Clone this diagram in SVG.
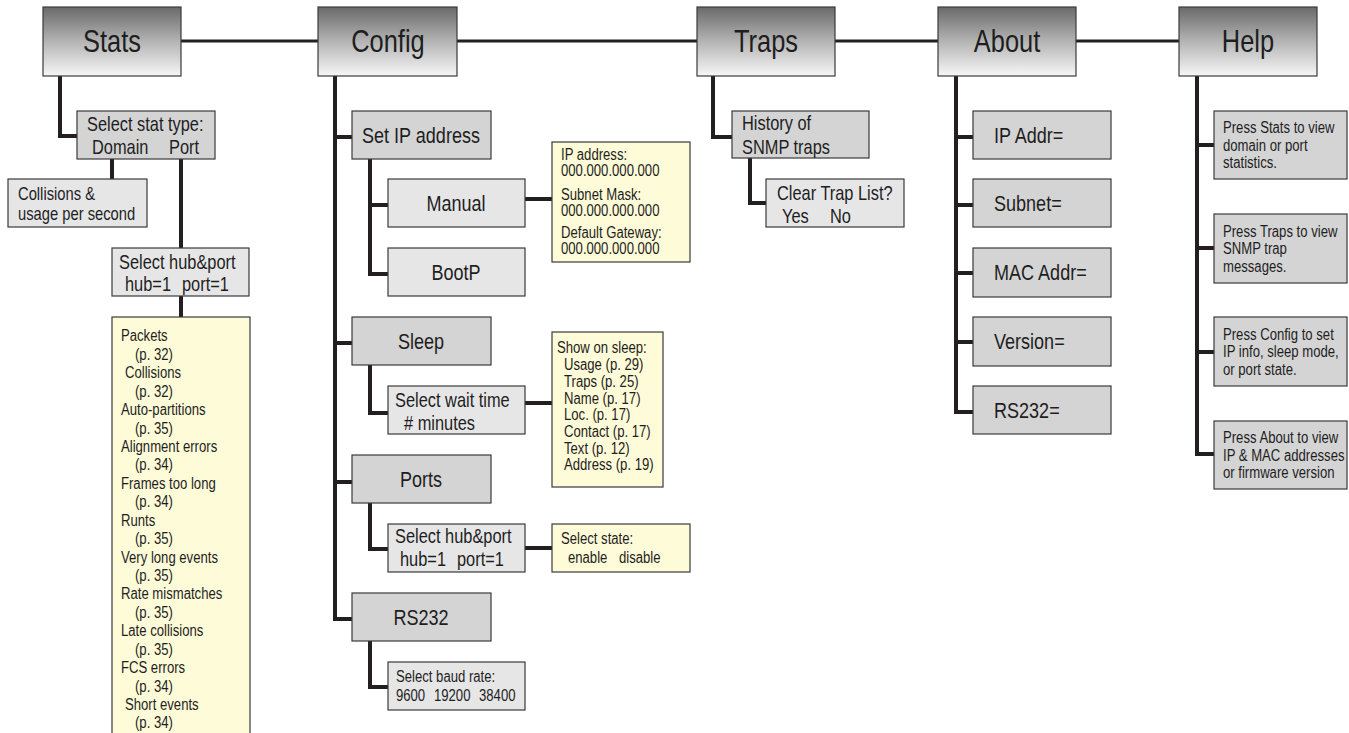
<svg xmlns="http://www.w3.org/2000/svg" width="1349" height="733" viewBox="0 0 1349 733">
<defs>
<linearGradient id="topg" x1="0" y1="0" x2="0" y2="1">
<stop offset="0" stop-color="#6a6a6a"/>
<stop offset="0.5" stop-color="#b4b4b4"/>
<stop offset="1" stop-color="#f7f7f7"/>
</linearGradient>
</defs>
<style>
text{font-family:'Liberation Sans',Arial,sans-serif;fill:#1e1e1e;transform-box:fill-box;transform-origin:0% 50%;transform:scaleX(0.82)}
.top{fill:url(#topg);stroke:#3a3a3a;stroke-width:1.2}
.g2{fill:#d4d4d4;stroke:#3a3a3a;stroke-width:1.2}
.g3{fill:#e6e6e7;stroke:#3a3a3a;stroke-width:1.2}
.y{fill:#fefbd8;stroke:#3a3a3a;stroke-width:1.2}
.tl{font-size:31px;text-anchor:middle;transform-origin:50% 50%}
.l22{font-size:22px}
.c22{font-size:22px;text-anchor:middle;transform-origin:50% 50%}
.l20{font-size:20px}
.l18{font-size:18px}
.l15{font-size:16px}
.h{font-size:16px}
.conn{fill:none;stroke:#231f20;stroke-width:4;stroke-linejoin:miter}
.bar{fill:none;stroke:#231f20;stroke-width:3}
</style>
<rect width="1349" height="733" fill="#ffffff"/>
<g id="connectors">
<path class="bar" d="M181 41H1179"/>
<path class="conn" d="M60 76V136H77"/>
<path class="conn" d="M112 159V179"/>
<path class="conn" d="M181 159V248"/>
<path class="conn" d="M181 296V317"/>
<path class="conn" d="M335 76V621"/>
<path class="conn" d="M335 137H352M335 343H352M335 482H352M335 619H352"/>
<path class="conn" d="M370 159V274H388M370 205H388"/>
<path class="conn" d="M525 199H552"/>
<path class="conn" d="M370 365V413H388"/>
<path class="conn" d="M525 403H552"/>
<path class="conn" d="M370 503V549H388"/>
<path class="conn" d="M525 548H552"/>
<path class="conn" d="M370 641V687H388"/>
<path class="conn" d="M713 76V137H732"/>
<path class="conn" d="M750 158V203H766"/>
<path class="conn" d="M956 76V412H973M956 137H973M956 205H973M956 273H973M956 342H973"/>
<path class="conn" d="M1197 76V454H1214M1197 145H1214M1197 248H1214M1197 352H1214"/>
</g>
<g id="stats"><rect class="top" x="43" y="7" width="138" height="69"/><text class="tl" x="112" y="52">Stats</text></g>
<g id="config"><rect class="top" x="318" y="7" width="139" height="69"/><text class="tl" x="388" y="52">Config</text></g>
<g id="traps"><rect class="top" x="697" y="7" width="138" height="69"/><text class="tl" x="766" y="52">Traps</text></g>
<g id="about"><rect class="top" x="938" y="7" width="138" height="69"/><text class="tl" x="1007" y="52">About</text></g>
<g id="help"><rect class="top" x="1179" y="7" width="138" height="69"/><text class="tl" x="1248" y="52">Help</text></g>

<g id="select-stat-type"><rect class="g2" x="77" y="111" width="138" height="48"/><text class="l20" x="87" y="131">Select stat type:</text><text class="l20" x="92" y="154">Domain</text><text class="l20" x="169" y="154">Port</text></g>
<g id="collisions-usage"><rect class="g3" x="8" y="179" width="139" height="48"/><text class="l18" x="18" y="200">Collisions &amp;</text><text class="l18" x="18" y="220">usage per second</text></g>
<g id="stats-hubport"><rect class="g3" x="112" y="248" width="137" height="48"/><text class="l20" x="119" y="269">Select hub&amp;port</text><text class="l20" x="125" y="291">hub=1</text><text class="l20" x="182" y="291">port=1</text></g>
<g id="stats-list"><rect class="y" x="112" y="317" width="138" height="440"/>
<text class="l15" x="121" y="341.5">Packets</text>
<text class="l15" x="135" y="359.9">(p. 32)</text>
<text class="l15" x="125" y="378.4">Collisions</text>
<text class="l15" x="135" y="396.8">(p. 32)</text>
<text class="l15" x="121" y="415.2">Auto-partitions</text>
<text class="l15" x="135" y="433.7">(p. 35)</text>
<text class="l15" x="121" y="452.1">Alignment errors</text>
<text class="l15" x="135" y="470.5">(p. 34)</text>
<text class="l15" x="121" y="488.9">Frames too long</text>
<text class="l15" x="135" y="507.4">(p. 34)</text>
<text class="l15" x="121" y="525.8">Runts</text>
<text class="l15" x="135" y="544.2">(p. 35)</text>
<text class="l15" x="121" y="562.7">Very long events</text>
<text class="l15" x="135" y="581.1">(p. 35)</text>
<text class="l15" x="121" y="599.5">Rate mismatches</text>
<text class="l15" x="135" y="618">(p. 35)</text>
<text class="l15" x="121" y="636.4">Late collisions</text>
<text class="l15" x="135" y="654.8">(p. 35)</text>
<text class="l15" x="121" y="673.2">FCS errors</text>
<text class="l15" x="135" y="691.7">(p. 34)</text>
<text class="l15" x="125" y="710.1">Short events</text>
<text class="l15" x="135" y="728.5">(p. 34)</text>
</g>

<g id="set-ip"><rect class="g2" x="352" y="111" width="139" height="48"/><text class="c22" x="421" y="143">Set IP address</text></g>
<g id="manual"><rect class="g3" x="388" y="179" width="137" height="48"/><text class="c22" x="456" y="211">Manual</text></g>
<g id="bootp"><rect class="g3" x="388" y="248" width="137" height="48"/><text class="c22" x="456" y="280">BootP</text></g>
<g id="ip-info"><rect class="y" x="552" y="142" width="138" height="120"/><text class="l15" x="561" y="160.5">IP address:</text><text class="l15" x="561" y="176.5">000.000.000.000</text><text class="l15" x="561" y="200.5">Subnet Mask:</text><text class="l15" x="561" y="216.5">000.000.000.000</text><text class="l15" x="561" y="238.5">Default Gateway:</text><text class="l15" x="561" y="254.5">000.000.000.000</text></g>
<g id="sleep"><rect class="g2" x="352" y="317" width="139" height="48"/><text class="c22" x="421" y="349">Sleep</text></g>
<g id="wait-time"><rect class="g3" x="388" y="386" width="137" height="48"/><text class="l20" x="395" y="407">Select wait time</text><text class="l20" x="404" y="430"># minutes</text></g>
<g id="show-sleep"><rect class="y" x="552" y="332" width="111" height="155"/>
<text class="l15" x="557" y="353.5">Show on sleep:</text>
<text class="l15" x="564" y="370.2">Usage (p. 29)</text>
<text class="l15" x="564" y="386.9">Traps (p. 25)</text>
<text class="l15" x="564" y="403.6">Name (p. 17)</text>
<text class="l15" x="564" y="420.3">Loc. (p. 17)</text>
<text class="l15" x="564" y="437">Contact (p. 17)</text>
<text class="l15" x="564" y="453.7">Text (p. 12)</text>
<text class="l15" x="564" y="470.4">Address (p. 19)</text>
</g>
<g id="ports"><rect class="g2" x="352" y="455" width="139" height="48"/><text class="c22" x="421" y="487">Ports</text></g>
<g id="config-hubport"><rect class="g3" x="388" y="524" width="137" height="48"/><text class="l20" x="395" y="543">Select hub&amp;port</text><text class="l20" x="400" y="566">hub=1</text><text class="l20" x="457" y="566">port=1</text></g>
<g id="select-state"><rect class="y" x="552" y="524" width="138" height="48"/><text class="l15" x="561" y="544.5">Select state:</text><text class="l15" x="568" y="563.5">enable</text><text class="l15" x="619" y="563.5">disable</text></g>
<g id="rs232"><rect class="g2" x="352" y="593" width="139" height="48"/><text class="c22" x="421" y="625">RS232</text></g>
<g id="baud"><rect class="g3" x="388" y="662" width="137" height="48"/><text class="l15" x="396" y="682.5">Select baud rate:</text><text class="l15" x="396" y="701.5">9600</text><text class="l15" x="434" y="701.5">19200</text><text class="l15" x="479" y="701.5">38400</text></g>

<g id="history"><rect class="g2" x="732" y="111" width="137" height="47"/><text class="l20" x="742" y="130">History of</text><text class="l20" x="742" y="154">SNMP traps</text></g>
<g id="clear-traps"><rect class="g3" x="766" y="179" width="138" height="48"/><text class="l20" x="777" y="200">Clear Trap List?</text><text class="l20" x="782" y="223">Yes</text><text class="l20" x="830" y="223">No</text></g>

<g id="ip-addr"><rect class="g2" x="973" y="111" width="138" height="48"/><text class="l22" x="994" y="143">IP Addr=</text></g>
<g id="subnet"><rect class="g2" x="973" y="179" width="138" height="48"/><text class="l22" x="994" y="211">Subnet=</text></g>
<g id="mac-addr"><rect class="g2" x="973" y="248" width="138" height="49"/><text class="l22" x="994" y="280">MAC Addr=</text></g>
<g id="version"><rect class="g2" x="973" y="317" width="138" height="49"/><text class="l22" x="994" y="349">Version=</text></g>
<g id="rs232-info"><rect class="g2" x="973" y="386" width="138" height="48"/><text class="l22" x="994" y="418">RS232=</text></g>

<g id="help-stats"><rect class="g2" x="1214" y="111" width="133" height="68"/><text class="h" x="1223" y="133.5">Press Stats to view</text><text class="h" x="1223" y="151">domain or port</text><text class="h" x="1223" y="168.5">statistics.</text></g>
<g id="help-traps"><rect class="g2" x="1214" y="214" width="133" height="69"/><text class="h" x="1223" y="237">Press Traps to view</text><text class="h" x="1223" y="254.5">SNMP trap</text><text class="h" x="1223" y="272">messages.</text></g>
<g id="help-config"><rect class="g2" x="1214" y="317" width="133" height="69"/><text class="h" x="1223" y="340">Press Config to set</text><text class="h" x="1223" y="357.5">IP info, sleep mode,</text><text class="h" x="1223" y="375">or port state.</text></g>
<g id="help-about"><rect class="g2" x="1214" y="421" width="133" height="68"/><text class="h" x="1223" y="443.5">Press About to view</text><text class="h" x="1223" y="461">IP &amp; MAC addresses</text><text class="h" x="1223" y="478.5">or firmware version</text></g>
</svg>
